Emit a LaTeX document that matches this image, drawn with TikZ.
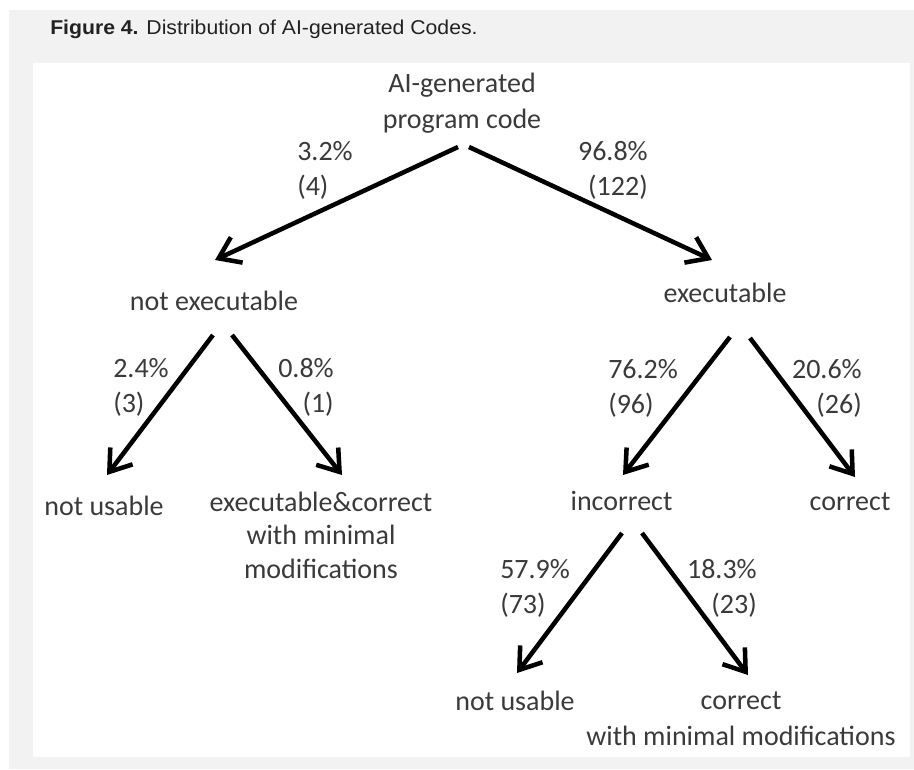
\documentclass[tikz,border=0pt]{standalone}
\usepackage{fontspec}
\setmainfont{Carlito}
\newfontfamily\captionfont[FakeStretch=1.06]{Liberation Sans}
\usetikzlibrary{arrows.meta}
\usetikzlibrary{calc}
\definecolor{bggray}{HTML}{F2F2F2}
\definecolor{txtgray}{HTML}{3A3A3A}
\definecolor{capgray}{HTML}{222222}

\begin{document}
\begin{tikzpicture}[x=0.75pt, y=-0.75pt, outcome/.style={anchor=base, align=center, inner sep=0pt, text=txtgray, font=\fontsize{21pt}{25pt}\selectfont}, lshare/.style={anchor=base west, align=left, inner sep=0pt, text=txtgray, font=\fontsize{21pt}{26pt}\selectfont}, rshare/.style={lshare, anchor=base east, align=right}, split/.style={-{Straight Barb[length=15pt, width=21pt]}, line width=3.4pt}]
	% page
	\useasboundingbox (0,0) rectangle (914,769);
	\fill[bggray] (9,10) rectangle (914,769);
	\fill[white] (33,63) rectangle (910,757);
	\node[anchor=base west, inner sep=0pt, text=capgray, font=\captionfont\fontsize{15pt}{18pt}\selectfont] (caption) at (50,34) {\textbf{Figure 4.} Distribution of AI-generated Codes.};

	% nodes (multi-line ones sit on their last baseline)
	\node[outcome] (aicode) at (462,128) {AI-generated\\[2pt]program code}; %
	\node[outcome] (notexec) at (214,310) {not executable}; %
	\node[outcome] (exec) at (725,302) {executable}; %
	\node[outcome] (unusable) at (104,515) {not usable}; %
	\node[outcome] (fixable) at (321,578) {executable\&correct\\with minimal\\modifications}; %
	\node[outcome] (incorrect) at (621.5,510) {incorrect}; %
	\node[outcome] (correct) at (850,510) {correct}; %
	\node[outcome] (unusabletwo) at (515,710) {not usable}; %
	\node[outcome] (correctmin) at (741,745) {correct\\[1.5pt]with minimal modifications}; %

	% shares
	\node[lshare] (pnotexec) at (297,195) {3.2\%\\(4)}; %
	\node[rshare] (pexec) at (648,195) {96.8\%\\(122)}; %
	\node[lshare] (punusable) at (113,412) {2.4\%\\(3)}; %
	\node[rshare] (pfixable) at (334,412) {0.8\%\\(1)}; %
	\node[lshare] (pincorrect) at (608,413) {76.2\%\\(96)}; %
	\node[rshare] (pcorrect) at (862,413) {20.6\%\\(26)}; %
	\node[lshare] (punusabletwo) at (500,613) {57.9\%\\(73)}; %
	\node[rshare] (pcorrectmin) at (757,613) {18.3\%\\(23)}; %

	% edges
	\draw[split] ($(aicode.base)+(-4,19)$) -- ($(notexec.base)+(1,-50)$);
	\draw[split] ($(aicode.base)+(7,19)$) -- ($(exec.base)+(-13,-42)$);
	\draw[split] ($(notexec.base)+(-1,25)$) -- ($(unusable.base)+(3,-40)$);
	\draw[split] ($(notexec.base)+(18,25)$) -- ($(fixable.base)+(21,-103)$);
	\draw[split] ($(exec.base)+(5,35)$) -- ($(incorrect.base)+(1.5,-35)$);
	\draw[split] ($(exec.base)+(25,36)$) -- ($(correct.base)+(5,-33)$);
	\draw[split] ($(incorrect.base)+(0.5,23)$) -- ($(unusabletwo.base)+(2,-37)$);
	\draw[split] ($(incorrect.base)+(20.5,23)$) -- ($(correctmin.base)+(7,-70)$);
\end{tikzpicture}
\end{document}
